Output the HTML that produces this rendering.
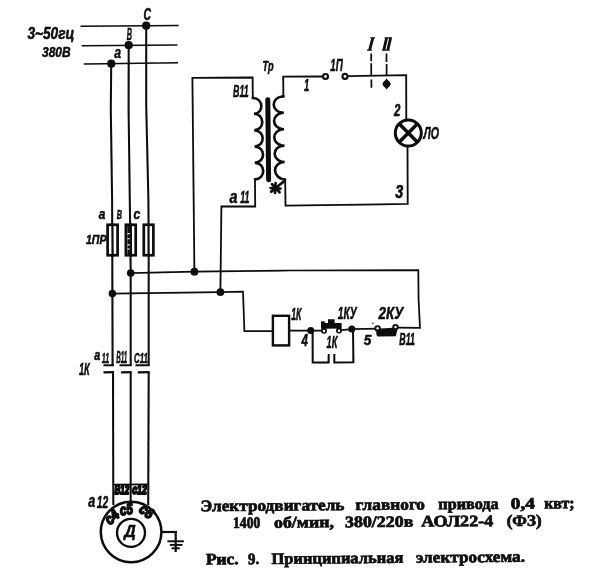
<!DOCTYPE html>
<html><head><meta charset="utf-8">
<style>
html,body{margin:0;padding:0;background:#fff;}
body{width:600px;height:582px;overflow:hidden;position:relative;font-family:"Liberation Sans",sans-serif;}
svg{position:absolute;left:0;top:0;display:block;}
.l path{fill:#0a0a0a;stroke:#0a0a0a;stroke-width:1;stroke-linejoin:round;vector-effect:non-scaling-stroke;}
.l text{font-family:"Liberation Sans",sans-serif;font-weight:bold;font-style:italic;fill:#0a0a0a;stroke:#0a0a0a;stroke-width:0.5;stroke-linejoin:round;}
.c{font-family:"Liberation Serif",serif;font-weight:bold;fill:#0a0a0a;stroke:#0a0a0a;stroke-width:0.7;}
.w{fill:none;stroke:#0a0a0a;stroke-width:1.8;stroke-linecap:square;stroke-linejoin:miter;}
.p{fill:none;stroke:#0a0a0a;stroke-width:2.05;stroke-linecap:butt;}
.k{fill:#0a0a0a;stroke:none;}
</style></head><body>
<svg width="600" height="582" viewBox="0 0 600 582">
<defs><filter id="b" x="0" y="0" width="600" height="582" filterUnits="userSpaceOnUse"><feGaussianBlur stdDeviation="0.38"/></filter></defs>
<rect width="600" height="582" fill="#fff"/>
<g filter="url(#b)">
<!-- bus lines -->
<g class="w" style="stroke-width:1.5">
<path d="M81.3,26.2 L177.9,25.5"/>
<path d="M82.5,45.8 L176.7,45"/>
<path d="M84.5,63.9 L177.3,62.8"/>
</g>
<circle class="k" cx="146.2" cy="25.7" r="4.1"/>
<circle class="k" cx="128.7" cy="45.2" r="4.1"/>
<circle class="k" cx="111.3" cy="63.7" r="4.1"/>

<!-- phase verticals -->
<g class="p">
<path d="M111.2,64 L110.8,110 L112.1,200 L112.4,293 L112.6,365.6"/>
<path d="M128.7,45 L128.6,110 L129.8,200 L130.7,273 L130.7,365.6"/>
<path d="M146.2,26 L146.2,105 L148.4,200 L148.7,250 L148.7,365.6"/>
<path d="M113,372 L113.3,505"/>
<path d="M130.7,372 L130.7,501"/>
<path d="M148.7,372 L148.2,505"/>
</g>

<!-- fuses -->
<g fill="#fff" stroke="#0a0a0a" stroke-width="2.7">
<rect x="107.6" y="224.8" width="10" height="30.4"/>
<rect x="125.9" y="224.8" width="9.8" height="30.4"/>
<rect x="143.8" y="224.8" width="9.6" height="30.4"/>
</g>
<g class="p" style="stroke-width:2.2">
<path d="M112.4,223 L112.6,257"/>
<path d="M130.8,223 L131,257"/>
<path d="M148.5,223 L148.6,257"/>
</g>
<path d="M128.6,226 L128.8,254" stroke="#0a0a0a" stroke-width="2.6" stroke-dasharray="7 1.2 4 1 5 1.4 3 1 9" fill="none"/>

<!-- contactor main contacts -->
<g class="p" style="stroke-width:2">
<path d="M103.5,365.3 L114,365.2"/><path d="M103.5,372.3 L114,372.2" style="stroke-width:2.3"/>
<path d="M119.5,365.3 L131.6,365.2"/><path d="M121,372.3 L131.6,372.2" style="stroke-width:2.3"/>
<path d="M135.5,365.3 L149.6,365.2"/><path d="M137.8,372.3 L149.6,372.2" style="stroke-width:2.3"/>
</g>

<!-- branch lines -->
<circle class="k" cx="130.7" cy="273" r="3.8"/>
<circle class="k" cx="112.4" cy="293.6" r="3.8"/>
<circle class="k" cx="194.4" cy="271.7" r="3.9"/>
<circle class="k" cx="220.4" cy="292.1" r="3.9"/>
<g class="w">
<path d="M130.7,273 L194.4,271.7 L290,270.5 L418.3,270.2 L418.6,300 L420,327.8 L398,327.6" style="stroke-width:1.75"/>
<path d="M112.4,293.6 L220.4,292.1 L243,291.7 L244.4,331 L271.7,331" style="stroke-width:1.75"/>
<path d="M194.4,271.7 L192.4,77.8 L252.6,77.5 L252.8,98"/>
<path d="M220.4,292.1 L221.4,206.5 L255.2,206.5 L255,179.5"/>
<path d="M283.4,96.4 L283.2,76.6 L322.2,76.5"/>
<path d="M348.3,76.2 L406.2,75.2 L406.3,119"/>
<path d="M407.5,147 L407.7,203.8 L380,204.3 L285.5,205.6 L285.2,180"/>
</g>

<!-- transformer -->
<g class="w" style="stroke-width:2.6;stroke-linecap:round">
<path d="M252.8,98 C264,98.5 264,113.5 254,113.8 C265,114.2 265,129.8 254.2,130.2 C265.4,130.6 265.4,146.2 254.6,146.5 C265.8,147 265.8,162.5 254.8,162.8 C266,163.2 266,178.8 255,179.4"/>
<path d="M283.4,96.4 C270.4,96.8 270.4,112.4 283.8,112.8 C270.8,113.2 270.8,128.8 284,129.2 C271,129.6 271,145.2 284.4,145.6 C271.4,146 271.4,161.6 284.6,162 C271.8,162.4 271.8,178 285,179.6"/>
</g>
<path d="M267.8,99.8 L268.6,179.8" stroke="#0a0a0a" stroke-width="5" stroke-linecap="round" fill="none"/>
<g stroke="#0a0a0a" stroke-width="2.7" stroke-linecap="round">
<path d="M272,184.2 L279.6,192.3"/><path d="M283.6,181.6 L271.2,191.6"/><path d="M270.6,188 L280.4,188.6"/><path d="M275.6,183 L275,193"/>
</g>

<!-- switch 1П -->
<g fill="#fff" stroke="#0a0a0a" stroke-width="2.1">
<circle cx="325.5" cy="76.5" r="2.5"/>
<circle cx="345" cy="76.4" r="2.5"/>
</g>
<g class="w" style="stroke-width:1.7;stroke-linecap:butt">
<path d="M371.2,53.5 L371.2,61.2 M371.2,63.3 L371.3,75 M371.4,79.4 L371.4,87.8"/>
<path d="M386.5,53.5 L386.5,61.9 M386.6,64 L386.6,75.2"/>
</g>
<path class="k" d="M386.6,78.4 L390.9,84 L386.6,89.6 L382.3,84 Z"/>
<circle class="k" cx="386.6" cy="84" r="3.6"/>
<!-- I, II -->
<g stroke="#0a0a0a" fill="none" stroke-linecap="butt">
<path d="M372.8,38 L369.6,50" stroke-width="2.8"/>
<path d="M370.4,37.8 L375,37.8 M367,50.2 L372,50.2" stroke-width="1.3"/>
<path d="M386.6,38 L383.8,50 M390.6,38 L387.8,50" stroke-width="2.8"/>
<path d="M384.6,37.8 L392,37.8 M382,50.2 L389.6,50.2" stroke-width="1.3"/>
</g>

<!-- lamp -->
<circle cx="408.3" cy="133" r="13" fill="#fff" stroke="#0a0a0a" stroke-width="3"/>
<g stroke="#0a0a0a" stroke-width="3.4">
<path d="M399.1,123.8 L417.5,142.2"/><path d="M417.5,123.8 L399.1,142.2"/>
</g>

<!-- coil 1K -->
<rect x="272.9" y="315.8" width="16.2" height="29.6" fill="#fff" stroke="#0a0a0a" stroke-width="2.4"/>
<g class="w" style="stroke-width:1.7">
<path d="M290,330.7 L324,330.6"/>
<path d="M339,330.4 L351.7,329.2 L376,328.6"/>
</g>
<g class="w" style="stroke-width:2">
<path d="M312.6,331 L312.7,362.4 L328.6,362.4 L328.7,355"/>
<path d="M334.3,355 L334.3,362.4 L353.4,362.2 L353,329.4"/>
</g>
<circle class="k" cx="310.7" cy="330.5" r="3.5"/>
<circle class="k" cx="351.8" cy="329.1" r="3.5"/>
<!-- 1КУ button -->
<path class="k" d="M321,321.6 L324.6,321.2 L324.8,323 L328,322.9 L328,319.2 L334.6,319.2 L334.6,322.9 L341.6,323 L341.6,328.6 L321,328.8 Z"/>
<circle class="k" cx="324" cy="330.7" r="3"/><circle class="k" cx="339" cy="330.5" r="3"/>
<circle fill="#fff" cx="324" cy="330.9" r="1.25"/><circle fill="#fff" cx="339" cy="330.7" r="1.25"/>
<!-- 2КУ button -->
<path class="k" d="M376.3,328.8 L397.4,327.5 L397.3,330 L395.8,336.2 L378.2,336.5 Q376.4,336 376.3,333.4 Z"/>
<circle class="k" cx="377.6" cy="328.4" r="3.2"/><circle class="k" cx="395.5" cy="327.1" r="3.2"/>
<circle fill="#fff" cx="377.6" cy="328.2" r="1.25"/><circle fill="#fff" cx="395.5" cy="326.9" r="1.25"/>
<circle class="k" cx="372.8" cy="323.3" r="0.8"/>

<!-- motor -->
<circle cx="131.1" cy="532" r="30.3" fill="none" stroke="#0a0a0a" stroke-width="2.5"/>
<circle cx="131" cy="532.8" r="14" fill="#fff" stroke="#0a0a0a" stroke-width="2.3"/>
<g class="w" style="stroke-width:2.2;stroke-linecap:butt">
<path d="M161.5,532 L176.8,532"/><path d="M175.7,531 L175.7,552"/>
</g>
<g class="w" style="stroke-width:1.9;stroke-linecap:butt">
<path d="M167.4,541.3 L183.9,541.3"/><path d="M169.8,544.9 L182.5,544.9"/><path d="M171.6,548.3 L179.7,548.3"/>
</g>
<!-- smudged terminal labels -->
<g font-family="Liberation Sans" font-weight="bold" font-style="italic" fill="#0a0a0a" stroke="#0a0a0a" stroke-linejoin="round">
<g style="stroke-width:1.9">
<text x="114.4" y="494.3" font-size="13.4" textLength="14.8" lengthAdjust="spacingAndGlyphs">В12</text>
<text x="132.2" y="494.3" font-size="13.4" textLength="14.8" lengthAdjust="spacingAndGlyphs">с12</text>
</g>
<g style="stroke-width:1.7">
<text transform="translate(110,525.5) rotate(-42)" font-size="15" textLength="14" lengthAdjust="spacingAndGlyphs">с4</text>
<text transform="translate(120.5,515.5) rotate(-8)" font-size="15" textLength="13" lengthAdjust="spacingAndGlyphs">с5</text>
<text transform="translate(138,511) rotate(38)" font-size="15" textLength="14" lengthAdjust="spacingAndGlyphs">с6</text>
</g>
</g>
<path d="M113,484.6 L148,484.4" stroke="#0a0a0a" stroke-width="1.6" fill="none"/>

<!-- labels -->
<g class="l">
<text x="27.4" y="39.25" font-size="15.8" textLength="47" lengthAdjust="spacingAndGlyphs">3~50гц</text>
<text x="42" y="57.35" font-size="15.5" textLength="28.5" lengthAdjust="spacingAndGlyphs">380В</text>
<text x="143.5" y="19.7" font-size="15.7" textLength="7.5" lengthAdjust="spacingAndGlyphs">С</text>
<text x="126.8" y="40.3" font-size="15.9" textLength="5.2" lengthAdjust="spacingAndGlyphs">В</text>
<text x="114.2" y="57.77" font-size="17.3" textLength="6.8" lengthAdjust="spacingAndGlyphs">а</text>
<text x="98.8" y="218.5" font-size="14.6" textLength="6.6" lengthAdjust="spacingAndGlyphs">а</text>
<text x="116.7" y="218.6" font-size="12.5" textLength="5.2" lengthAdjust="spacingAndGlyphs">В</text>
<text x="133.6" y="218.51" font-size="14.6" textLength="6.8" lengthAdjust="spacingAndGlyphs">с</text>
<text x="86" y="244.05" font-size="13.7" textLength="20.5" lengthAdjust="spacingAndGlyphs">1ПР</text>
<text x="78.9" y="375" font-size="16.6" textLength="10.8" lengthAdjust="spacingAndGlyphs">1К</text>
<text x="94.2" y="359.74" font-size="15.3" textLength="6" lengthAdjust="spacingAndGlyphs">а</text>
<text x="101.8" y="362.75" font-size="13.8" textLength="7.4" lengthAdjust="spacingAndGlyphs">11</text>
<text x="116.2" y="362.85" font-size="15.9" textLength="11" lengthAdjust="spacingAndGlyphs">В11</text>
<text x="134" y="362.7" font-size="15.4" textLength="13.8" lengthAdjust="spacingAndGlyphs">С11</text>
<text x="88.3" y="507.46" font-size="18.8" textLength="7" lengthAdjust="spacingAndGlyphs">а</text>
<text x="96.7" y="507.65" font-size="16.6" textLength="11.4" lengthAdjust="spacingAndGlyphs">12</text>
<text x="124.2" y="536.69" font-size="16.3" textLength="11.5" lengthAdjust="spacingAndGlyphs">Д</text>
<text x="262.5" y="71.2" font-size="15.3" textLength="11" lengthAdjust="spacingAndGlyphs">Тр</text>
<text x="233" y="96.5" font-size="17.1" textLength="15.6" lengthAdjust="spacingAndGlyphs">В11</text>
<text x="229.5" y="202.61" font-size="18.8" textLength="8" lengthAdjust="spacingAndGlyphs">а</text>
<text x="240.2" y="202.8" font-size="16.9" textLength="9.2" lengthAdjust="spacingAndGlyphs">11</text>
<text x="304" y="91" font-size="16.7" textLength="5.2" lengthAdjust="spacingAndGlyphs">1</text>
<text x="330.2" y="71" font-size="17.4" textLength="12.5" lengthAdjust="spacingAndGlyphs">1П</text>
<text x="394.1" y="115.5" font-size="17.2" textLength="6.4" lengthAdjust="spacingAndGlyphs">2</text>
<text x="395.3" y="198.07" font-size="18" textLength="8" lengthAdjust="spacingAndGlyphs">3</text>
<text x="423.4" y="139.34" font-size="16.2" textLength="15.5" lengthAdjust="spacingAndGlyphs">ЛО</text>
<text x="291.2" y="319.5" font-size="16" textLength="10.2" lengthAdjust="spacingAndGlyphs">1К</text>
<text x="301.4" y="346.2" font-size="16" textLength="6.4" lengthAdjust="spacingAndGlyphs">4</text>
<text x="326.5" y="347.5" font-size="16" textLength="10.8" lengthAdjust="spacingAndGlyphs">1К</text>
<text x="337.8" y="319.34" font-size="16.8" textLength="18.8" lengthAdjust="spacingAndGlyphs">1КУ</text>
<text x="378.6" y="318.7" font-size="15.8" textLength="24.6" lengthAdjust="spacingAndGlyphs">2КУ</text>
<text x="363.7" y="344.85" font-size="14.9" textLength="7.6" lengthAdjust="spacingAndGlyphs">5</text>
<text x="399.3" y="345" font-size="15.9" textLength="15.6" lengthAdjust="spacingAndGlyphs">В11</text>
</g>

<!-- captions -->
<g class="c">
<g transform="rotate(-0.47 200.3 511.3)" font-size="16">
<text x="200.5" y="511.3" textLength="144" lengthAdjust="spacingAndGlyphs">Электродвигатель</text>
<text x="355.5" y="511.3" textLength="69.5" lengthAdjust="spacingAndGlyphs">главного</text>
<text x="438.3" y="511.3" textLength="60.4" lengthAdjust="spacingAndGlyphs">привода</text>
<text x="510.8" y="511.3" textLength="24.2" lengthAdjust="spacingAndGlyphs">0,4</text>
<text x="544.2" y="511.3" textLength="30.5" lengthAdjust="spacingAndGlyphs">квт;</text>
</g>
<g transform="rotate(-0.42 232.5 528)" font-size="16">
<text x="233" y="528" textLength="27.4" lengthAdjust="spacingAndGlyphs">1400</text>
<text x="274" y="528" textLength="60" lengthAdjust="spacingAndGlyphs">об/мин,</text>
<text x="345" y="528" textLength="68.3" lengthAdjust="spacingAndGlyphs">380/220в</text>
<text x="421.3" y="528" textLength="72" lengthAdjust="spacingAndGlyphs">АОЛ22-4</text>
<text x="506.7" y="528" textLength="35" lengthAdjust="spacingAndGlyphs">(ФЗ)</text>
</g>
<g transform="rotate(-0.5 205.8 564.5)" font-size="16">
<text x="205.9" y="564.5" textLength="32.8" lengthAdjust="spacingAndGlyphs">Рис.</text>
<text x="248" y="564.5" textLength="11.2" lengthAdjust="spacingAndGlyphs">9.</text>
<text x="271.5" y="564.5" textLength="131.8" lengthAdjust="spacingAndGlyphs">Принципиальная</text>
<text x="416" y="564.5" textLength="109" lengthAdjust="spacingAndGlyphs">электросхема.</text>
</g>
</g>

</g>
</svg>
</body></html>
